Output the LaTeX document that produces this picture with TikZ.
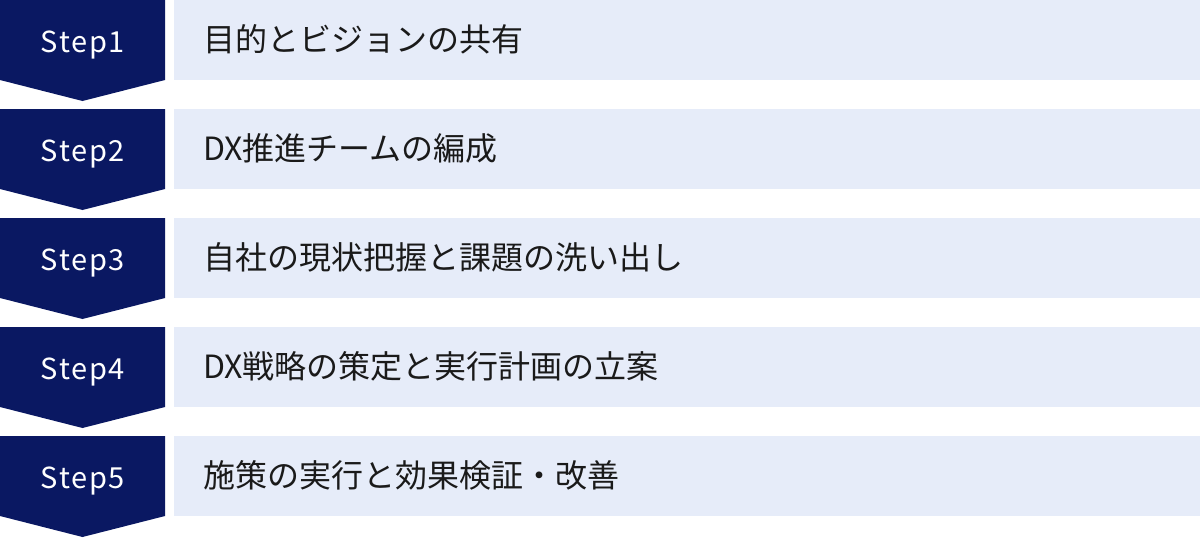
\documentclass[tikz,border=0pt]{standalone}
\usepackage{fontspec}
\setmainfont{Noto Sans CJK JP}
\newfontfamily\stepfont[LetterSpace=6]{Noto Sans CJK JP}
\definecolor{stepnavy}{HTML}{0A1862}
\definecolor{itemblue}{HTML}{E6ECF9}
\definecolor{itemtext}{HTML}{1A1A1A}
\begin{document}
\begin{tikzpicture}
	[x=1pt,y=-1pt,
	tag/.style={fill=stepnavy},
	steplabel/.style={anchor=base,text=white,font=\stepfont\fontsize{29}{32}\selectfont,inner sep=0pt},
	itembox/.style={fill=itemblue},
	itemlabel/.style={anchor=base west,text=itemtext,font=\fontsize{32}{35}\selectfont,inner sep=0pt}]
	\useasboundingbox (0,0) rectangle (1200,538);
	% Step1
	\fill[tag] (0,0) -- (165,0) -- (165,80) -- (82.5,101) -- (0,80) -- cycle;
	\fill[itembox] (174,0) rectangle (1200,80);
	\node[steplabel] (step1) at (83,52) {Step1};
	\node[itemlabel] (item1) at (203,51) {目的とビジョンの共有};
	% Step2
	\fill[tag] (0,109) -- (165,109) -- (165,189) -- (82.5,210) -- (0,189) -- cycle;
	\fill[itembox] (174,109) rectangle (1200,189);
	\node[steplabel] (step2) at (83,161) {Step2};
	\node[itemlabel] (item2) at (203,160) {DX推進チームの編成};
	% Step3
	\fill[tag] (0,218) -- (165,218) -- (165,298) -- (82.5,319) -- (0,298) -- cycle;
	\fill[itembox] (174,218) rectangle (1200,298);
	\node[steplabel] (step3) at (83,270) {Step3};
	\node[itemlabel] (item3) at (203,269) {自社の現状把握と課題の洗い出し};
	% Step4
	\fill[tag] (0,327) -- (165,327) -- (165,407) -- (82.5,428) -- (0,407) -- cycle;
	\fill[itembox] (174,327) rectangle (1200,407);
	\node[steplabel] (step4) at (83,379) {Step4};
	\node[itemlabel] (item4) at (203,378) {DX戦略の策定と実行計画の立案};
	% Step5
	\fill[tag] (0,436) -- (165,436) -- (165,516) -- (82.5,537) -- (0,516) -- cycle;
	\fill[itembox] (174,436) rectangle (1200,516);
	\node[steplabel] (step5) at (83,488) {Step5};
	\node[itemlabel] (item5) at (203,487) {施策の実行と効果検証・改善};
\end{tikzpicture}
\end{document}
